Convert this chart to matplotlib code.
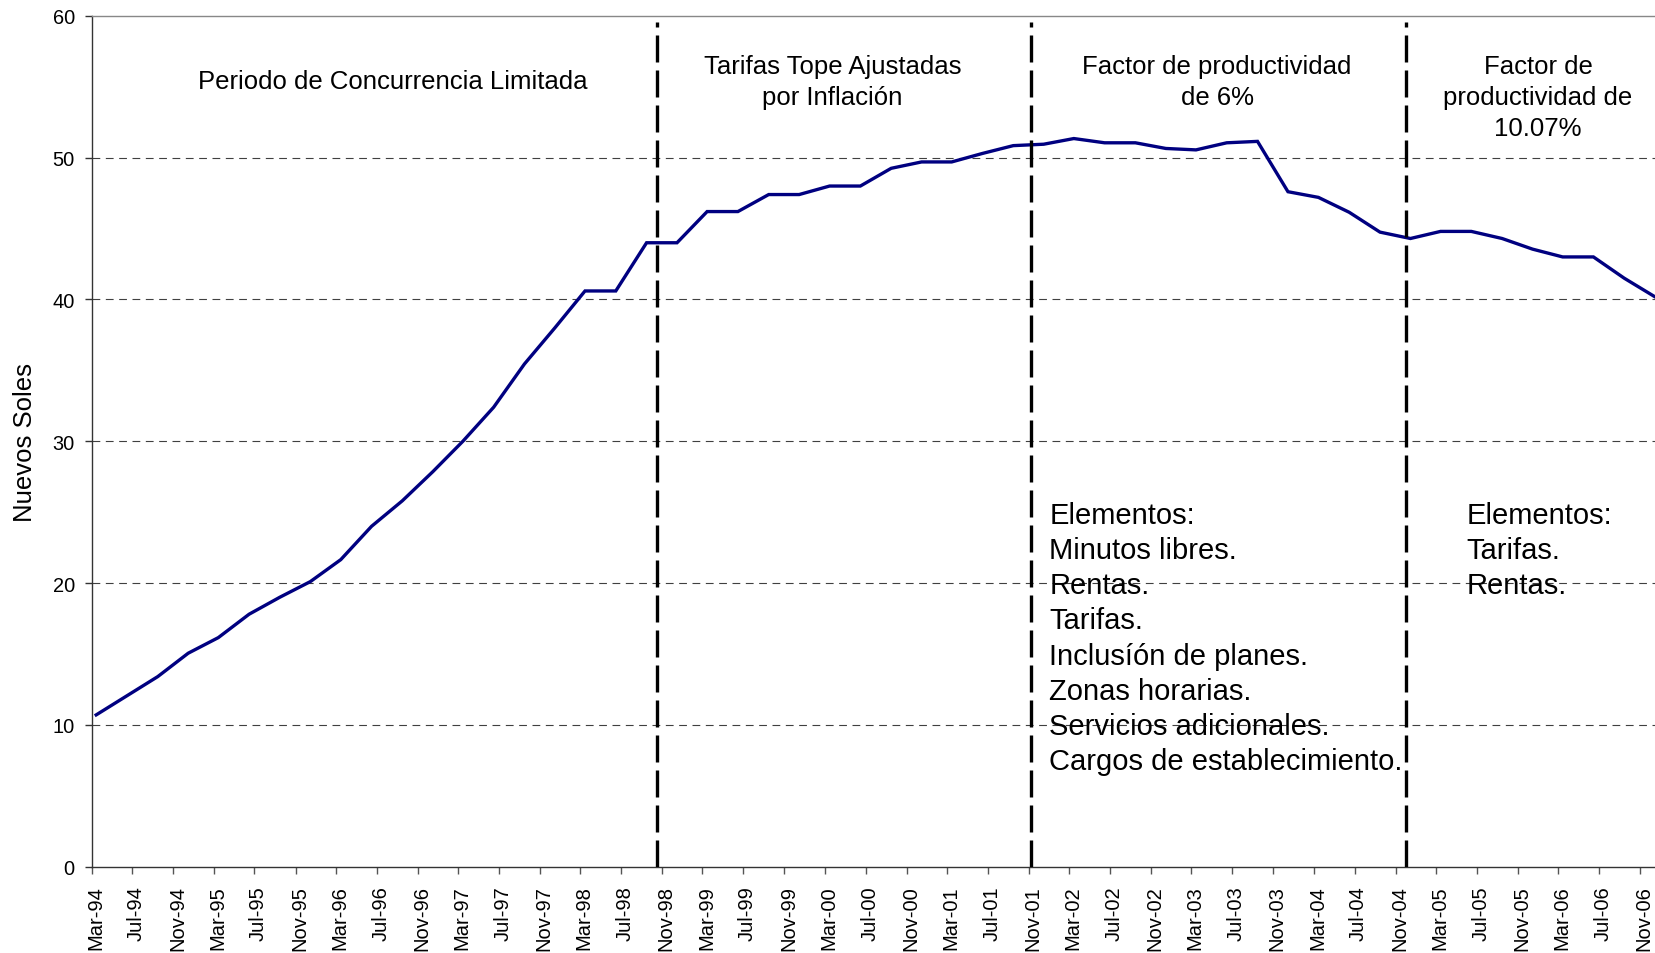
import matplotlib
matplotlib.use("Agg")
import matplotlib.pyplot as plt
import matplotlib.transforms as mtransforms
import pandas as pd

plt.rcParams['font.family'] = ['Liberation Sans', 'DejaVu Sans']

# ---- data (quarterly, Mar-94 .. Dec-06) ----
values = [10.7, 12.05, 13.4, 15.05, 16.15, 17.8, 19.0, 20.1,
          21.65, 24.0, 25.8, 27.85, 30.0, 32.4, 35.45, 38.0,
          40.6, 40.6, 44.0, 44.0, 46.2, 46.2, 47.4, 47.4,
          48.0, 48.0, 49.25, 49.7, 49.7, 50.3, 50.85, 50.95,
          51.35, 51.05, 51.05, 50.65, 50.55, 51.05, 51.15, 47.6,
          47.2, 46.15, 44.75, 44.3, 44.8, 44.8, 44.3, 43.55,
          43.0, 43.0, 41.5, 40.2]
dates = pd.date_range("1994-03-01", periods=len(values), freq="3MS") + pd.Timedelta(days=14)

tick_dates = pd.date_range("1994-03-01", "2006-11-01", freq="4MS")
tick_labels = [d.strftime("%b-%y") for d in tick_dates]

period_breaks = ["1998-10-16", "2001-11-07", "2004-12-02"]
period_titles = ["Periodo de Concurrencia Limitada",
                 "Tarifas Tope Ajustadas\npor Inflación",
                 "Factor de productividad\nde 6%",
                 "Factor de\nproductividad de\n10.07%"]
elementos_1 = ["Elementos:", "Minutos libres.", "Rentas.", "Tarifas.",
               "Inclusíón de planes.", "Zonas horarias.",
               "Servicios adicionales.", "Cargos de establecimiento."]
elementos_2 = ["Elementos:", "Tarifas.", "Rentas."]
y_ticks = [0, 10, 20, 30, 40, 50, 60]

# ---- figure ----
W, H = 1655, 954
fig = plt.figure(figsize=(W / 100, H / 100), dpi=100)
x0, x1 = 91.5, 1655
y0, y1 = 867.6, 16.9
ax = fig.add_axes([x0 / W, 1 - y0 / H, (x1 - x0) / W, (y0 - y1) / H])

ax.plot(dates, values, color="#000080", lw=2.4, solid_joinstyle="miter", zorder=3)

ax.set_xlim(pd.Timestamp("1994-03-01"), pd.Timestamp("2006-12-16"))
ax.set_ylim(0, 60)
ax.set_yticks(y_ticks)
ax.set_xticks(tick_dates)
ax.set_xticklabels(tick_labels, rotation=90, fontsize=14.5)
ax.tick_params(axis="y", labelsize=14.4, length=5, width=1, color="#333333", pad=7)
ax.tick_params(axis="x", length=5.3, width=1, color="#555555", pad=8.2)
offset = mtransforms.ScaledTranslation(4.0 / 100, 0, fig.dpi_scale_trans)
for lab in ax.get_xticklabels():
    lab.set_transform(lab.get_transform() + offset)

for v in y_ticks[1:-1]:
    ax.axhline(v, color="#404040", lw=0.8, ls=(0, (7, 5)), zorder=1)

for b in period_breaks:
    ax.vlines(pd.Timestamp(b), 0, 59.55, color="black", lw=2.4,
              linestyles=[(0, (8.1, 2.4))], zorder=4)

for s in ["left", "bottom"]:
    ax.spines[s].set_color("#333333")
    ax.spines[s].set_linewidth(1.0)
ax.spines["top"].set_color("#888888")
ax.spines["top"].set_linewidth(1.0)
ax.spines["right"].set_visible(False)

title_pos = [(0.1928, 0.9233), (0.4738, 0.9233), (0.7199, 0.9233), (0.9252, 0.9045)]
for (tx, ty), t in zip(title_pos, period_titles):
    ax.text(tx, ty, t, transform=ax.transAxes, ha="center", va="center",
            fontsize=18.5, linespacing=1.36, zorder=5)

ax.text(0.6125, 0.2687, "\n".join(elementos_1), transform=ax.transAxes,
        ha="left", va="center", fontsize=21, linespacing=1.323, zorder=5)
ax.text(0.8792, 0.3723, "\n".join(elementos_2), transform=ax.transAxes,
        ha="left", va="center", fontsize=21, linespacing=1.323, zorder=5)

fig.text(25 / W, 1 - 442 / H, "Nuevos Soles", rotation=90, ha="center", va="center",
         fontsize=18.5)

fig.savefig("out.png", dpi=100)
